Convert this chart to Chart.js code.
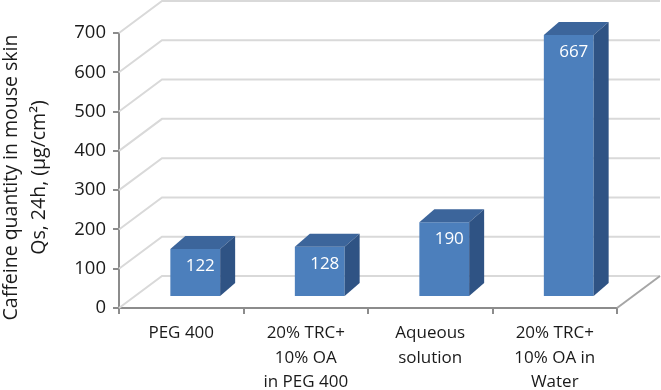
<!DOCTYPE html>
<html>
<head>
<meta charset="utf-8">
<script src="https://cdn.jsdelivr.net/npm/chart.js@4.4.1/dist/chart.umd.min.js"></script>
<style>
    html, body { margin: 0; padding: 0; background: #ffffff; }
    canvas { display: block; }
</style>
</head>
<body>
<canvas id="caffeineChart" width="661" height="390"></canvas>
<script>
// Chart data
const categories = [
    'PEG 400',
    ['20% TRC+', '10% OA', 'in PEG 400'],
    ['Aqueous', 'solution'],
    ['20% TRC+', '10% OA in', 'Water']
];
const caffeineValues = [122, 128, 190, 667];
const yMin = 0;
const yMax = 700;
const yStep = 100;
const yTitle = ['Caffeine quantity in mouse skin', 'Qs, 24h, (\u03bcg/cm\u00b2)'];

// 3D look
const wallDepth = { dx: 43, dy: -32 };
const barShift = { dx: 14, dy: -11 };
const barDepth = { dx: 15, dy: -13 };

const colors = {
    front: '#4c7fbc',
    top: '#3c659b',
    side: '#2f5384',
    grid: '#d9d9d9',
    axis: '#8c8c8c',
    text: '#1a1a1a'
};

// Walls, floor, 3D bar faces and the axis title
const box3d = {
    id: 'box3d',
    beforeDatasetsDraw(chart) {
        const { ctx, chartArea: a, scales: { y } } = chart;
        ctx.save();
        ctx.lineWidth = 2;
        ctx.strokeStyle = colors.grid;
        for (let v = yMin; v <= yMax; v += yStep) {
            const py = y.getPixelForValue(v);
            ctx.beginPath();
            ctx.moveTo(a.left, py);
            ctx.lineTo(a.left + wallDepth.dx, py + wallDepth.dy);
            ctx.lineTo(a.right + wallDepth.dx, py + wallDepth.dy);
            ctx.stroke();
        }
        // right edge of the floor
        ctx.strokeStyle = '#a6a6a6';
        ctx.beginPath();
        ctx.moveTo(a.right, a.bottom);
        ctx.lineTo(a.right + wallDepth.dx, a.bottom + wallDepth.dy);
        ctx.stroke();
        ctx.restore();

        // bars sit a bit back from the front plane
        ctx.save();
        ctx.translate(barShift.dx, barShift.dy);
    },
    afterDatasetsDraw(chart) {
        const { ctx } = chart;
        const meta = chart.getDatasetMeta(0);
        meta.data.forEach((bar, i) => {
            const p = bar.getProps(['x', 'y', 'base', 'width'], true);
            const l = p.x - p.width / 2;
            const r = p.x + p.width / 2;
            const t = p.y;
            const b = p.base;

            // top face
            ctx.fillStyle = colors.top;
            ctx.beginPath();
            ctx.moveTo(l, t);
            ctx.lineTo(r, t);
            ctx.lineTo(r + barDepth.dx, t + barDepth.dy);
            ctx.lineTo(l + barDepth.dx, t + barDepth.dy);
            ctx.closePath();
            ctx.fill();

            // side face
            ctx.fillStyle = colors.side;
            ctx.beginPath();
            ctx.moveTo(r, t);
            ctx.lineTo(r + barDepth.dx, t + barDepth.dy);
            ctx.lineTo(r + barDepth.dx, b + barDepth.dy);
            ctx.lineTo(r, b);
            ctx.closePath();
            ctx.fill();

            // value label
            ctx.fillStyle = '#ffffff';
            ctx.font = '17px "Open Sans"';
            ctx.textAlign = 'center';
            ctx.textBaseline = 'middle';
            ctx.fillText(String(caffeineValues[i]), p.x + 5, t + 17);
        });
        ctx.restore();
    },
    afterDraw(chart) {
        // rotated y axis title, centred a little below the plot middle
        const { ctx, chartArea: a } = chart;
        const cy = (a.top + a.bottom) / 2 + 7;
        ctx.save();
        ctx.fillStyle = colors.text;
        ctx.font = '19.5px "Open Sans"';
        ctx.textAlign = 'center';
        ctx.textBaseline = 'middle';
        [11, 39].forEach((cx, i) => {
            ctx.save();
            ctx.translate(cx, cy);
            ctx.rotate(-Math.PI / 2);
            ctx.fillText(yTitle[i], 0, 0);
            ctx.restore();
        });
        ctx.restore();
    }
};

const ctx = document.getElementById('caffeineChart');

const config = {
    type: 'bar',
    data: {
        labels: categories,
        datasets: [{
            data: caffeineValues,
            backgroundColor: colors.front,
            borderWidth: 0,
            barPercentage: 0.4,
            categoryPercentage: 1,
            clip: false
        }]
    },
    options: {
        responsive: false,
        animation: false,
        devicePixelRatio: 1,
        layout: {
            padding: { top: 33, right: 44, left: 0, bottom: 0 }
        },
        plugins: {
            legend: { display: false },
            tooltip: { enabled: false }
        },
        scales: {
            x: {
                grid: {
                    display: true,
                    drawOnChartArea: false,
                    offset: true,
                    tickLength: 6,
                    color: colors.axis,
                    lineWidth: 2
                },
                border: { color: colors.axis, width: 2 },
                ticks: {
                    color: colors.text,
                    autoSkip: false,
                    maxRotation: 0,
                    padding: 7,
                    font: { family: 'Open Sans', size: 17, lineHeight: 1.45 }
                },
                afterFit(scale) {
                    scale.height = 82;
                }
            },
            y: {
                min: yMin,
                max: yMax,
                grid: {
                    drawOnChartArea: false,
                    tickLength: 6,
                    color: colors.axis,
                    lineWidth: 2
                },
                border: { color: colors.axis, width: 2 },
                ticks: {
                    stepSize: yStep,
                    color: colors.text,
                    padding: 7,
                    font: { family: 'Open Sans', size: 18.5 }
                },
                afterFit(scale) {
                    scale.width = 119;
                }
            }
        }
    },
    plugins: [box3d]
};

const caffeineChart = new Chart(ctx, config);
</script>
</body>
</html>
